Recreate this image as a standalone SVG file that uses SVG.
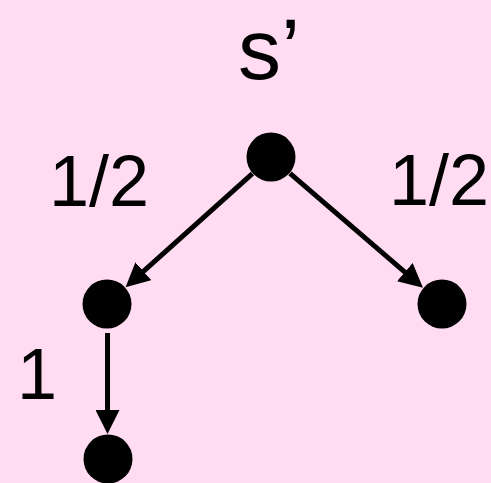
<svg xmlns="http://www.w3.org/2000/svg" width="491" height="483" viewBox="0 0 491 483">
<style>
.lbl{font-family:"Liberation Sans",Arial,sans-serif;font-size:72px;fill:#000}
.node{fill:#000}
.edge{stroke:#000;stroke-width:5;fill:none}
</style>
<defs>
<marker id="arr" markerUnits="userSpaceOnUse" markerWidth="24" markerHeight="24" refX="12" refY="12" orient="auto" viewBox="0 0 24 24">
<path d="M0,0 L24,12 L0,24 z" fill="#000"/>
</marker>
</defs>
<rect width="491" height="483" fill="#ffdcf2"/>
<g id="connectors">
<line class="edge" x1="252.4" y1="173.7" x2="134.5" y2="279.3" marker-end="url(#arr)"/>
<line class="edge" x1="290" y1="173.3" x2="413.9" y2="279.9" marker-end="url(#arr)"/>
<line class="edge" x1="107.5" y1="333" x2="107.5" y2="422" marker-end="url(#arr)"/>
</g>
<g id="labels">
<text class="lbl" x="238" y="79" style="font-size:86px">s’</text>
<text class="lbl" x="49" y="206">1/2</text>
<text class="lbl" x="389" y="205">1/2</text>
<text class="lbl" x="17" y="399">1</text>
</g>
<g id="node-top"><circle class="node" cx="271" cy="157" r="24.5"/></g>
<g id="node-left"><circle class="node" cx="107" cy="304" r="24.5"/></g>
<g id="node-right"><circle class="node" cx="442" cy="304" r="24.5"/></g>
<g id="node-bottom"><circle class="node" cx="108" cy="459" r="24.5"/></g>
</svg>
